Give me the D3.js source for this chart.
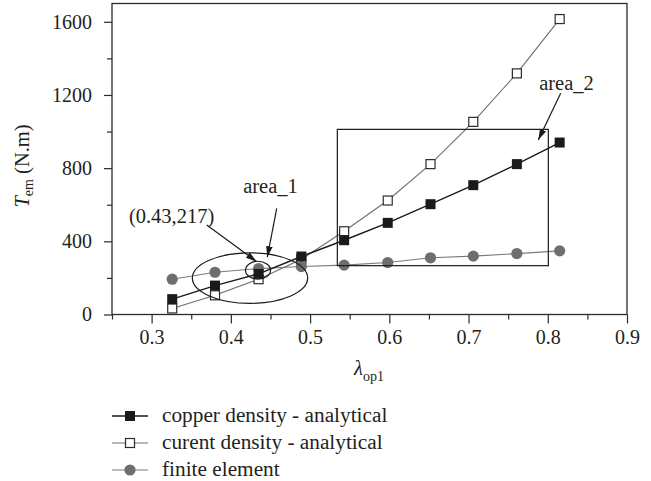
<!DOCTYPE html>
<html>
<head>
<meta charset="utf-8">
<script src="https://cdn.jsdelivr.net/npm/d3@7"></script>
<style>
  html, body { margin: 0; padding: 0; background: #fff; }
  svg { display: block; }
</style>
</head>
<body>
<svg id="chart" width="651" height="481"></svg>
<script>
// Pole-arc ratio (x) against electromagnetic torque (y)
const lambdaValues = [0.326, 0.380, 0.435, 0.489, 0.543, 0.598, 0.652, 0.706, 0.761, 0.815];
const copperDensity = [84, 158, 222, 317, 406, 501, 603, 707, 822, 940];
const currentDensity = [33, 105, 193, 302, 455, 623, 822, 1053, 1318, 1615];
const finiteElement = [193, 231, 251, 262, 270, 284, 310, 319, 333, 348];

const seriesNames = ["copper density - analytical", "curent density - analytical", "finite element"];
const xTicks = [0.3, 0.4, 0.5, 0.6, 0.7, 0.8, 0.9];
const xMinorTicks = [0.25, 0.35, 0.45, 0.55, 0.65, 0.75, 0.85];
const yTicks = [0, 400, 800, 1200, 1600];
const yMinorTicks = [200, 600, 1000, 1400];

// annotations, in data units
const areaOneEllipse = { cx: 0.4242, cy: 199, rx: 0.0728, ry: 138 };
const pointCircle = { cx: 0.4343, cy: 242, rx: 0.0158, ry: 49 };
const areaTwoBox = { x0: 0.5344, x1: 0.8007, y0: 267, y1: 1012 };
const arrows = [
  { from: [0.3696, 489], to: [0.4326, 289] },
  { from: [0.4579, 580], to: [0.4460, 313] },
  { from: [0.8163, 1209], to: [0.7880, 954] }
];
const notes = [
  { text: "(0.43,217)", at: [0.3252, 500] },
  { text: "area_1", at: [0.4500, 664] },
  { text: "area_2", at: [0.8236, 1226] }
];

const svg = d3.select("#chart");
const plotLeft = 112, plotRight = 627, plotTop = 3.5, plotBottom = 314.5;

const x = d3.scaleLinear().domain([0.25, 0.9]).range([plotLeft, plotRight]);
const y = d3.scaleLinear().domain([0, 1700]).range([plotBottom, plotTop]);

const axisColor = "#2b2b2b";
const textColor = "#231f20";
const serif = '"Liberation Serif", "Times New Roman", serif';
const fontSize = 20.5;

function styleText(sel, size) {
  return sel.style("font-family", serif).style("font-size", size + "px").style("fill", textColor);
}

// frame
svg.append("rect")
  .attr("x", plotLeft).attr("y", plotTop)
  .attr("width", plotRight - plotLeft).attr("height", plotBottom - plotTop)
  .attr("fill", "none").attr("stroke", axisColor).attr("stroke-width", 1.3);

// x axis
svg.append("g").attr("transform", `translate(0,${plotBottom})`)
  .call(d3.axisBottom(x).tickValues(xTicks).tickSize(9).tickPadding(6).tickFormat(d3.format(".1f")));
svg.append("g").attr("transform", `translate(0,${plotBottom})`)
  .call(d3.axisBottom(x).tickValues(xMinorTicks).tickSize(5).tickFormat(""));

// y axis
svg.append("g").attr("transform", `translate(${plotLeft},0)`)
  .call(d3.axisLeft(y).tickValues(yTicks).tickSize(8).tickPadding(12).tickFormat(d3.format("d")));
svg.append("g").attr("transform", `translate(${plotLeft},0)`)
  .call(d3.axisLeft(y).tickValues(yMinorTicks).tickSize(5).tickFormat(""));

svg.selectAll(".domain").remove();
svg.selectAll(".tick line").attr("stroke", axisColor).attr("stroke-width", 1.2);
styleText(svg.selectAll(".tick text"), 20);

// axis titles
const yTitle = styleText(svg.append("text"), fontSize)
  .attr("transform", "translate(29,166) rotate(-90)")
  .attr("text-anchor", "middle");
yTitle.append("tspan").style("font-style", "italic").text("T");
yTitle.append("tspan").style("font-size", "14px").attr("dy", 4).text("em");
yTitle.append("tspan").attr("dy", -4).text(" (N.m)");

const xTitle = styleText(svg.append("text"), fontSize)
  .attr("x", 369).attr("y", 375)
  .attr("text-anchor", "middle");
xTitle.append("tspan").style("font-style", "italic").text("λ");
xTitle.append("tspan").style("font-size", "14px").attr("dy", 6).text("op1");

// series
const series = [
  { name: seriesNames[1], values: currentDensity, line: "#6e6e6e", lw: 1.1, marker: "open" },
  { name: seriesNames[2], values: finiteElement, line: "#7a7a7a", lw: 1.1, marker: "dot" },
  { name: seriesNames[0], values: copperDensity, line: "#1a1a1a", lw: 1.4, marker: "filled" }
];

function drawMarker(g, kind, cx, cy) {
  if (kind === "filled") {
    g.append("rect").attr("x", cx - 5).attr("y", cy - 5).attr("width", 10).attr("height", 10)
      .attr("fill", "#1a1a1a");
  } else if (kind === "open") {
    g.append("rect").attr("x", cx - 4.5).attr("y", cy - 4.5).attr("width", 9).attr("height", 9)
      .attr("fill", "#fff").attr("stroke", "#2b2b2b").attr("stroke-width", 1.2);
  } else {
    g.append("circle").attr("cx", cx).attr("cy", cy).attr("r", 5.6).attr("fill", "#6d6e70");
  }
}

const line = d3.line().x(d => x(d[0])).y(d => y(d[1]));
series.forEach(s => {
  const pts = lambdaValues.map((v, i) => [v, s.values[i]]);
  svg.append("path").datum(pts).attr("d", line)
    .attr("fill", "none").attr("stroke", s.line).attr("stroke-width", s.lw);
});
series.forEach(s => {
  const g = svg.append("g");
  lambdaValues.forEach((v, i) => drawMarker(g, s.marker, x(v), y(s.values[i])));
});

// annotations
const ink = "#1a1a1a";
svg.append("defs").append("marker")
  .attr("id", "head").attr("viewBox", "0 0 10 6").attr("refX", 10).attr("refY", 3)
  .attr("markerWidth", 11).attr("markerHeight", 7).attr("markerUnits", "userSpaceOnUse")
  .attr("orient", "auto")
  .append("path").attr("d", "M0,0 L10,3 L0,6 Z").attr("fill", ink);

const ellipse = (e) => svg.append("ellipse")
  .attr("cx", x(e.cx)).attr("cy", y(e.cy))
  .attr("rx", x(e.cx + e.rx) - x(e.cx)).attr("ry", y(e.cy) - y(e.cy + e.ry))
  .attr("fill", "none").attr("stroke", ink).attr("stroke-width", 1.2);
ellipse(areaOneEllipse);
ellipse(pointCircle);

svg.append("rect")
  .attr("x", x(areaTwoBox.x0)).attr("y", y(areaTwoBox.y1))
  .attr("width", x(areaTwoBox.x1) - x(areaTwoBox.x0))
  .attr("height", y(areaTwoBox.y0) - y(areaTwoBox.y1))
  .attr("fill", "none").attr("stroke", ink).attr("stroke-width", 1.2);

arrows.forEach(a => {
  svg.append("line")
    .attr("x1", x(a.from[0])).attr("y1", y(a.from[1]))
    .attr("x2", x(a.to[0])).attr("y2", y(a.to[1]))
    .attr("stroke", ink).attr("stroke-width", 1.2).attr("marker-end", "url(#head)");
});

notes.forEach(n => {
  styleText(svg.append("text"), fontSize)
    .attr("x", x(n.at[0])).attr("y", y(n.at[1]))
    .attr("text-anchor", "middle").text(n.text);
});

// legend
const legendRows = [
  { label: seriesNames[0], line: "#1a1a1a", marker: "filled" },
  { label: seriesNames[1], line: "#6e6e6e", marker: "open" },
  { label: seriesNames[2], line: "#7a7a7a", marker: "dot" }
];
legendRows.forEach((r, i) => {
  const cy = 416 + i * 27;
  const g = svg.append("g");
  g.append("line").attr("x1", 112).attr("x2", 148).attr("y1", cy).attr("y2", cy)
    .attr("stroke", r.line).attr("stroke-width", r.marker === "filled" ? 1.4 : 1.1);
  drawMarker(g, r.marker, 130, cy);
  styleText(g.append("text"), 21.3)
    .attr("x", 162).attr("y", cy + 6).text(r.label);
});
</script>
</body>
</html>
